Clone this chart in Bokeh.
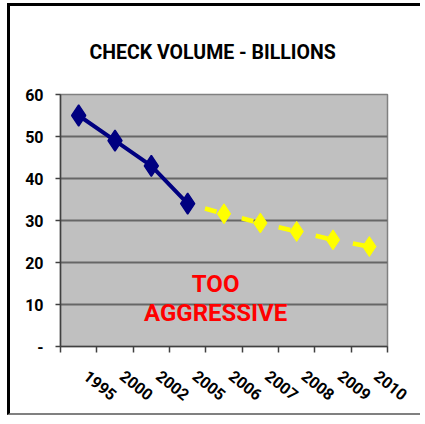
from bokeh.plotting import figure
from bokeh.models import Range1d, FixedTicker, Label
from bokeh.embed import file_html
from bokeh.resources import INLINE

# ---- data ----
years = ["1995", "2000", "2002", "2005", "2006", "2007", "2008", "2009", "2010"]
actual_years = ["1995", "2000", "2002", "2005"]
actual_values = [55, 49, 43, 34]
forecast_years = ["2005", "2006", "2007", "2008", "2009", "2010"]
forecast_values = [34, 31.6, 29.4, 27.4, 25.4, 23.8]
y_ticks = [0, 10, 20, 30, 40, 50, 60]
y_tick_labels = ["-", "10", "20", "30", "40", "50", "60"]
title_text = "CHECK VOLUME - BILLIONS"
note_lines = ["TOO", "AGGRESSIVE"]

FONT = "Roboto"

# category index -> centre position
pos = {y: i + 0.5 for i, y in enumerate(years)}
centers = [pos[y] for y in years]
bounds = list(range(len(years) + 1))
label_pos = [c + 0.2 for c in centers]

p = figure(
    width=413, height=412,
    x_range=Range1d(0, len(years)), y_range=Range1d(0, 60),
    output_backend="svg", toolbar_location=None,
    min_border_left=50, min_border_right=36, min_border_top=88, min_border_bottom=72,
    background_fill_color="#C0C0C0", border_fill_color="white",
    outline_line_color="#808080", outline_line_width=1.5,
    styles={
        "margin-left": "7px", "margin-top": "3px",
        "border-left": "3px solid black", "border-top": "3px solid black",
        "border-bottom": "2px solid #808080",
    },
)

p.title.text = title_text
p.title.align = "left"
p.title.offset = 29
p.title.standoff = 62
p.title.text_font = FONT
p.title.text_font_style = "bold"
p.title.text_font_size = "19.5px"
p.title.text_color = "black"

# axes
p.xaxis.ticker = FixedTicker(ticks=label_pos, minor_ticks=bounds)
p.xaxis.major_label_overrides = {c: y for c, y in zip(label_pos, years)}
p.xaxis.major_tick_out = 0
p.xaxis.major_tick_in = 0
p.xaxis.minor_tick_out = 6
p.xaxis.minor_tick_in = 0
p.xaxis.minor_tick_line_color = "#404040"
p.xaxis.minor_tick_line_width = 1.5
p.xaxis.axis_line_color = "#404040"
p.xaxis.axis_line_width = 1.5
p.xaxis.major_label_orientation = -0.68
p.xaxis.major_label_standoff = 21
p.xaxis.major_label_text_font = FONT
p.xaxis.major_label_text_font_style = "bold"
p.xaxis.major_label_text_font_size = "16px"
p.xaxis.major_label_text_color = "black"

p.yaxis.ticker = FixedTicker(ticks=y_ticks)
p.yaxis.major_label_overrides = {t: l for t, l in zip(y_ticks, y_tick_labels)}
p.yaxis.major_tick_out = 5
p.yaxis.major_tick_in = 0
p.yaxis.minor_tick_out = 0
p.yaxis.minor_tick_in = 0
p.yaxis.major_tick_line_color = "#404040"
p.yaxis.major_tick_line_width = 1.5
p.yaxis.axis_line_color = "#404040"
p.yaxis.axis_line_width = 1.5
p.yaxis.major_label_standoff = 12
p.yaxis.major_label_text_font = FONT
p.yaxis.major_label_text_font_style = "bold"
p.yaxis.major_label_text_font_size = "16px"
p.yaxis.major_label_text_color = "black"

p.xgrid.visible = False
p.ygrid.grid_line_color = "#666666"
p.ygrid.grid_line_width = 2

# forecast (yellow dashed)
fx = [pos[y] for y in forecast_years]
p.line(fx, forecast_values, line_color="#FFFF00", line_width=4.5,
       line_dash="12 26", line_dash_offset=20)
p.scatter(fx[1:], forecast_values[1:], marker="diamond", size=20,
          fill_color="#FFFF00", line_color="#FFFF00", line_width=1)

# actual (navy solid)
ax = [pos[y] for y in actual_years]
p.line(ax, actual_values, line_color="#000080", line_width=4)
p.scatter(ax, actual_values, marker="diamond", size=21,
          fill_color="#000080", line_color="#000080", line_width=1.5)

# note
p.add_layout(Label(x=4.27, y=14.9, text=note_lines[0], text_align="center",
                   text_baseline="middle", text_font=FONT,
                   text_font_style="bold", text_font_size="24px",
                   text_color="#FF0000"))
p.add_layout(Label(x=4.27, y=8.0, text=note_lines[1], text_align="center",
                   text_baseline="middle", text_font=FONT,
                   text_font_style="bold", text_font_size="24px",
                   text_color="#FF0000"))

open("out.html", "w").write(file_html(p, INLINE))
